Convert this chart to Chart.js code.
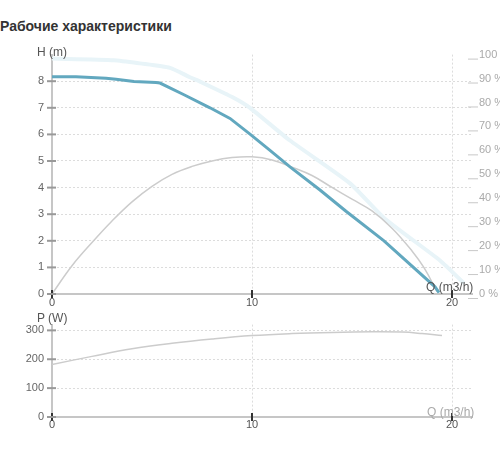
<!DOCTYPE html>
<html><head><meta charset="utf-8">
<script src="https://cdn.jsdelivr.net/npm/chart.js@4/dist/chart.umd.min.js"></script>
<style>
html,body{margin:0;padding:0;background:#fff;width:500px;height:450px;overflow:hidden;font-family:"Liberation Sans",Arial,sans-serif}
#title{position:absolute;left:0;top:18px;font-weight:bold;font-size:14px;line-height:16px;color:#333;white-space:nowrap}
.wrap{position:absolute;left:0;width:500px}
.lab{position:absolute;font-size:12px;line-height:14px;color:#555;white-space:nowrap}
</style></head><body>
<div id="title">Рабочие характеристики</div>
<div class="wrap" style="top:40px;height:270px"><canvas id="c1"></canvas></div>
<div class="wrap" style="top:310px;height:125px"><canvas id="c2"></canvas></div>
<div class="lab" style="left:37px;top:45px">H (m)</div>
<div class="lab" style="left:426px;top:280px">Q (m3/h)</div>
<div class="lab" style="left:37px;top:311px">P (W)</div>
<div class="lab" style="left:427px;top:405px;color:#aaa;filter:blur(0.7px)">Q (m3/h)</div>
<script>
// Head curve (m) vs flow Q (m3/h)
const qHead = [0, 1.2, 2.7, 3.2, 4.1, 5.2, 5.4, 6.6, 7.9, 8.9, 9.9, 10.9, 11.9, 13.4, 14.7, 16.6, 19.15, 19.35];
const head  = [8.17, 8.17, 8.11, 8.07, 7.99, 7.95, 7.93, 7.49, 7.0, 6.6, 6.01, 5.4, 4.78, 3.91, 3.11, 2.0, 0.27, 0.05];
// Light (max) head curve
const qMax    = [0, 3.1, 4.4, 5.9, 6.9, 7.5, 9.1, 9.9, 11.9, 14.9, 16.6, 19.4, 20.6];
const headMax = [8.85, 8.79, 8.67, 8.5, 8.15, 7.95, 7.37, 7.0, 5.77, 4.16, 2.86, 1.26, 0.4];
// Efficiency (%)
const qEff = [0, 1, 2, 3, 4, 5, 6, 7, 8, 9, 10, 11, 12, 13, 14, 15, 16, 17, 18, 18.6, 19.25];
const eff  = [0, 11.8, 21.5, 30.5, 38.5, 45, 50, 53.3, 55.6, 57, 57.3, 56, 53, 49.5, 44.5, 39.6, 34.7, 27.5, 18, 11, 1];
// Power (W)
const qPow  = [0, 2, 4, 6, 8, 10, 12, 14, 16, 17.5, 18.5, 19.5];
const power = [182, 210, 236, 255, 270, 282, 289, 293, 295, 294, 289, 282];
// Tick labels
const xTicks   = [0, 10, 20];
const hTicks   = [0, 1, 2, 3, 4, 5, 6, 7, 8];
const effTicks = [0, 10, 20, 30, 40, 50, 60, 70, 80, 90, 100];
const pTicks   = [0, 100, 200, 300];

function pts(xs, ys){ return xs.map((x, i) => ({x: x, y: ys[i]})); }
function fixTicks(list){ return s => { s.ticks = list.map(v => ({value: v})); }; }
const GRID = '#dcdcdc', AXIS = '#c6c6c6';
function gridColor(ctx){ return (ctx.tick && ctx.tick.value === 0) ? 'rgba(0,0,0,0)' : GRID; }

const tickMarks = {
  id: 'tickMarks',
  afterDraw(chart){
    const ctx = chart.ctx, a = chart.chartArea;
    ctx.save();
    const x = chart.scales.x;
    ctx.strokeStyle = '#333'; ctx.lineWidth = 2;
    x.ticks.forEach(t => { const p = x.getPixelForValue(t.value); ctx.beginPath(); ctx.moveTo(p, a.bottom - 4); ctx.lineTo(p, a.bottom + 4); ctx.stroke(); });
    const y = chart.scales.y;
    ctx.strokeStyle = '#999'; ctx.lineWidth = 2;
    y.ticks.forEach(t => { const p = y.getPixelForValue(t.value); ctx.beginPath(); ctx.moveTo(a.left - 5, p); ctx.lineTo(a.left + 4, p); ctx.stroke(); });
    if (chart.scales.y2){
      const r = chart.scales.y2;
      ctx.strokeStyle = '#c8c8c8'; ctx.lineWidth = 1;
      r.ticks.forEach(t => { const p = r.getPixelForValue(t.value) + 4.5; ctx.beginPath(); ctx.moveTo(a.right - 4, p); ctx.lineTo(a.right + 6, p); ctx.stroke(); });
    }
    ctx.restore();
  }
};

function xScale(h, pad){
  return {
    type: 'linear', min: 0, max: 21,
    afterBuildTicks: fixTicks(xTicks),
    afterFit: s => { s.height = h; },
    border: {color: AXIS, width: 2, dash: [2, 2]},
    grid: {drawTicks: false, color: gridColor, lineWidth: 1},
    ticks: {padding: pad, color: '#555', font: {size: 11, family: 'Liberation Sans'}, maxRotation: 0, autoSkip: false}
  };
}

const common = {
  responsive: true, maintainAspectRatio: false, animation: false,
  plugins: {legend: {display: false}, tooltip: {enabled: false}},
  elements: {point: {radius: 0}}
};

new Chart(document.getElementById('c1'), {
  type: 'line',
  data: {datasets: [
    {data: pts(qHead, head), yAxisID: 'y', borderColor: '#62a8bf', borderWidth: 3, tension: 0, fill: false},
    {data: pts(qEff, eff), yAxisID: 'y2', borderColor: '#cccccc', borderWidth: 1.5, tension: 0.4, fill: false},
    {data: pts(qMax, headMax), yAxisID: 'y', borderColor: '#e8f4f8', borderWidth: 4, tension: 0.2, fill: false}
  ]},
  options: Object.assign({}, common, {
    layout: {padding: {top: 12, left: 0, right: 0, bottom: 0}},
    scales: {
      x: xScale(16, 2),
      y: {
        position: 'left', min: 0, max: 9,
        afterBuildTicks: fixTicks(hTicks),
        afterFit: s => { s.width = 52; },
        border: {color: AXIS, width: 2, dash: [2, 2]},
        grid: {drawTicks: false, color: gridColor, lineWidth: 1},
        ticks: {padding: 8, color: '#666', font: {size: 11, family: 'Liberation Sans'}}
      },
      y2: {
        position: 'right', min: 0, max: 100,
        afterBuildTicks: fixTicks(effTicks),
        afterFit: s => { s.width = 28; },
        border: {display: false},
        grid: {display: false, drawTicks: false},
        ticks: {padding: 7, color: '#aaa', font: {size: 11, family: 'Liberation Sans'}, callback: v => v + ' %'}
      }
    }
  }),
  plugins: [tickMarks]
});

new Chart(document.getElementById('c2'), {
  type: 'line',
  data: {datasets: [
    {data: pts(qPow, power), yAxisID: 'y', borderColor: '#cccccc', borderWidth: 1.5, tension: 0.4, fill: false}
  ]},
  options: Object.assign({}, common, {
    layout: {padding: {top: 13, left: 0, right: 28, bottom: 0}},
    scales: {
      x: xScale(18, 1),
      y: {
        position: 'left', min: 0, max: 320,
        afterBuildTicks: fixTicks(pTicks),
        afterFit: s => { s.width = 52; },
        border: {color: AXIS, width: 2, dash: [2, 2]},
        grid: {drawTicks: false, color: gridColor, lineWidth: 1},
        ticks: {padding: 8, color: '#666', font: {size: 11, family: 'Liberation Sans'}}
      }
    }
  }),
  plugins: [tickMarks]
});
</script>
</body></html>
